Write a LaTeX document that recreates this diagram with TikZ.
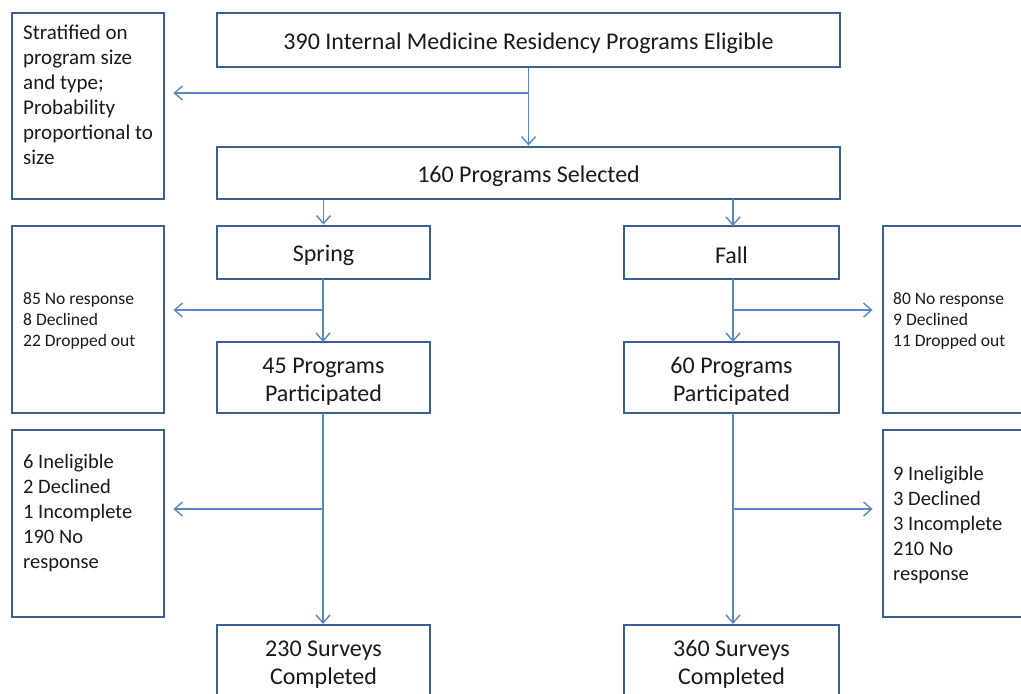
\documentclass[tikz,border=0pt]{standalone}
\usepackage{fontspec}
\setmainfont{Carlito}
\usetikzlibrary{arrows.meta}
\definecolor{boxblue}{HTML}{3A5F95}
\definecolor{arrowblue}{HTML}{5B88C4}
\definecolor{txt}{HTML}{1A1A1A}
\newcommand{\tstrut}{\rule{0pt}{23pt}}
\begin{document}
\begin{tikzpicture}[x=1pt,y=-1pt,
  box/.style={draw=boxblue, line width=2.8pt, fill=white, inner sep=0pt, text=txt, align=center,
    font=\fontsize{24}{28}\selectfont},
  sidetext/.style={anchor=north west, inner sep=0pt, align=left, text=txt, font=\fontsize{21}{25}\selectfont},
  bottomtext/.style={anchor=north west, inner sep=0pt, align=left, text=txt, font=\fontsize{20.5}{25}\selectfont},
  smalltext/.style={anchor=north west, inner sep=0pt, align=left, text=txt, font=\fontsize{17.5}{21}\selectfont},
  conn/.style={draw=arrowblue, line width=1.4pt},
  arr/.style={conn, -{Straight Barb[length=8pt,width=14pt,line width=1.4pt]}},
]
\useasboundingbox (0,0) rectangle (1021,694);
\clip (0,0) rectangle (1021,694);
\fill[white] (0,0) rectangle (1021,694);

% boxes
\node[box, minimum width=152pt, minimum height=186pt] (strat) at (88,106) {};
\node[box, minimum width=623pt, minimum height=54pt] (top) at (528.5,40) {\tstrut 390 Internal Medicine Residency Programs Eligible};
\node[box, minimum width=623pt, minimum height=52pt] (sel) at (528.5,173) {\tstrut 160 Programs Selected};
\node[box, minimum width=213pt, minimum height=53pt] (spring) at (323.5,252.5) {\tstrut Spring};
\node[box, minimum width=215pt, minimum height=53pt] (fall) at (731.5,252.5) {\tstrut Fall};
\node[box, minimum width=152pt, minimum height=187pt] (l2) at (88,319.5) {};
\node[box, minimum width=152pt, minimum height=187pt] (r2) at (959,319.5) {};
\node[box, minimum width=213pt, minimum height=71pt] (p45) at (323.5,377.5) {\tstrut 45 Programs\\Participated};
\node[box, minimum width=215pt, minimum height=71pt] (p60) at (731.5,377.5) {\tstrut 60 Programs\\Participated};
\node[box, minimum width=152pt, minimum height=187pt] (l3) at (88,523.5) {};
\node[box, minimum width=152pt, minimum height=187pt] (r3) at (959,523.5) {};
\node[box, minimum width=213pt, minimum height=71pt] (s230) at (323.5,660.5) {\tstrut 230 Surveys\\Completed};
\node[box, minimum width=215pt, minimum height=71pt] (s360) at (731.5,660.5) {\tstrut 360 Surveys\\Completed};

% side texts
\node[sidetext] (strattxt) at (23,25) {Stratified on\\program size\\and type;\\Probability\\proportional to\\size};
\node[smalltext] (l2txt) at (23,292.5) {85 No response\\8 Declined\\22 Dropped out};
\node[smalltext] (r2txt) at (893,292.5) {80 No response\\9 Declined\\11 Dropped out};
\node[bottomtext] (l3txt) at (23,454.5) {6 Ineligible\\2 Declined\\1 Incomplete\\190 No\\response};
\node[bottomtext] (r3txt) at (893,466.5) {9 Ineligible\\3 Declined\\3 Incomplete\\210 No\\response};

% junctions
\coordinate (j1) at (528,93);
\coordinate (j2) at (323,310);
\coordinate (j3) at (733,310);
\coordinate (j4) at (323,509);
\coordinate (j5) at (733,509);

% connectors
\draw[arr] (top.south) -- (sel.north);
\draw[arr, shorten >=8pt] (j1) -- (strat.east |- j1);

\draw[arr] (spring.north |- sel.south) -- (spring.north);
\draw[arr] (733,199) -- (733,226);

\draw[arr] (323,279) -- (323,342);
\draw[arr, shorten >=8pt] (j2) -- (l2.east |- j2);
\draw[arr] (733,279) -- (733,342);
\draw[arr, shorten >=9pt] (j3) -- (r2.west |- j3);

\draw[arr] (323,413) -- (323,624);
\draw[arr, shorten >=8pt] (j4) -- (l3.east |- j4);
\draw[arr] (733,413) -- (733,624);
\draw[arr, shorten >=9pt] (j5) -- (r3.west |- j5);
\end{tikzpicture}
\end{document}
